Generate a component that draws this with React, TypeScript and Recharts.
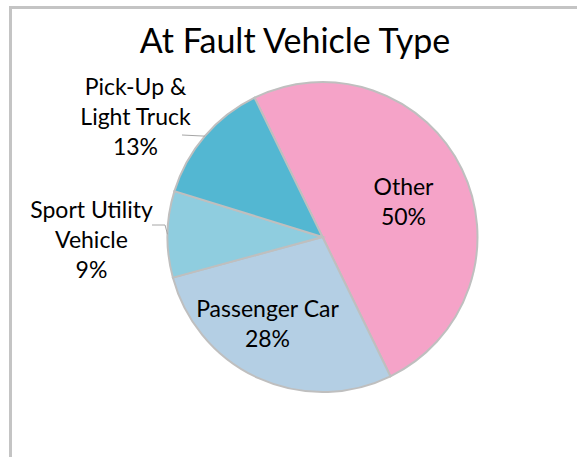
import React from 'react';
import { PieChart, Pie, Cell } from 'recharts';

const categories = ['Other', 'Passenger Car', 'Sport Utility Vehicle', 'Pick-Up & Light Truck'];
const shares = [50, 28, 9, 13];
const colors = ['#F5A3C8', '#B4CFE4', '#8FCDDF', '#53B7D2'];

const data = categories.map((name, i) => ({ name, value: shares[i] }));

const FONT = 'Lato, "Open Sans", sans-serif';
const LINE = 30;

// where each data label sits, as offsets from the pie centre
const labelLayout: Record<string, { lines: string[]; dx: number; dy: number; leader?: number[][] }> = {
    'Other': { lines: ['Other'], dx: 81, dy: -42 },
    'Passenger Car': { lines: ['Passenger Car'], dx: -55, dy: 80 },
    'Sport Utility Vehicle': {
        lines: ['Sport Utility', 'Vehicle'], dx: -231, dy: -19,
        leader: [[-157.5, -12], [-170.5, -12]],
    },
    'Pick-Up & Light Truck': {
        lines: ['Pick-Up &', 'Light Truck'], dx: -187, dy: -142,
        leader: [[-140.5, -102]],
    },
};

const renderLabel = (props: any) => {
    const { cx, cy, midAngle, outerRadius, percent, index } = props;
    const name = props.name ?? props.payload?.name;
    const lay = labelLayout[name];
    if (!lay) return null;
    const RAD = Math.PI / 180;
    const lines = [...lay.lines, `${Math.round(percent * 100)}%`];
    const x = cx + lay.dx;
    const y = cy + lay.dy;

    let leader = null;
    if (lay.leader) {
        const ex = cx + outerRadius * Math.cos(-midAngle * RAD);
        const ey = cy + outerRadius * Math.sin(-midAngle * RAD);
        const pts = [[ex, ey], ...lay.leader.map(([a, b]) => [cx + a, cy + b])];
        leader = (
            <polyline
                points={pts.map(p => p.join(',')).join(' ')}
                fill="none"
                stroke="#A6A6A6"
                strokeWidth={1}
            />
        );
    }

    return (
        <g key={`label-${index}`}>
            {leader}
            <text x={x} y={y} textAnchor="middle" fontSize={23} fill="#000" fontFamily={FONT}>
                {lines.map((l, i) => (
                    <tspan key={i} x={x} dy={i === 0 ? 0 : LINE}>{l}</tspan>
                ))}
            </text>
        </g>
    );
};

const App: React.FC = () => {
    return (
        <div style={{ position: 'absolute', left: 0, top: 0, width: 577, height: 457, background: '#fff', overflow: 'hidden' }}>
            {/* chart area frame, right and bottom edges run off the picture */}
            <div
                style={{
                    position: 'absolute', left: 9, top: 6, width: 700, height: 600,
                    borderLeft: '3px solid #C4C4C4', borderTop: '3px solid #C4C4C4',
                }}
            />
            <div
                style={{
                    position: 'absolute', left: 0, top: 23, width: 590, textAlign: 'center',
                    fontFamily: FONT, fontSize: 34, lineHeight: '34px', color: '#000',
                }}
            >
                At Fault Vehicle Type
            </div>
            <div style={{ position: 'absolute', left: 0, top: 0 }}>
                <PieChart width={577} height={457}>
                    <Pie
                        data={data}
                        dataKey="value"
                        nameKey="name"
                        cx={317.5}
                        cy={232}
                        outerRadius={155}
                        startAngle={116}
                        endAngle={-244}
                        stroke="#BFBFBF"
                        strokeWidth={2}
                        label={renderLabel}
                        labelLine={false}
                        isAnimationActive={false}
                    >
                        {data.map((entry, index) => (
                            <Cell key={`cell-${index}`} fill={colors[index]} />
                        ))}
                    </Pie>
                </PieChart>
            </div>
        </div>
    );
};

export default App;
